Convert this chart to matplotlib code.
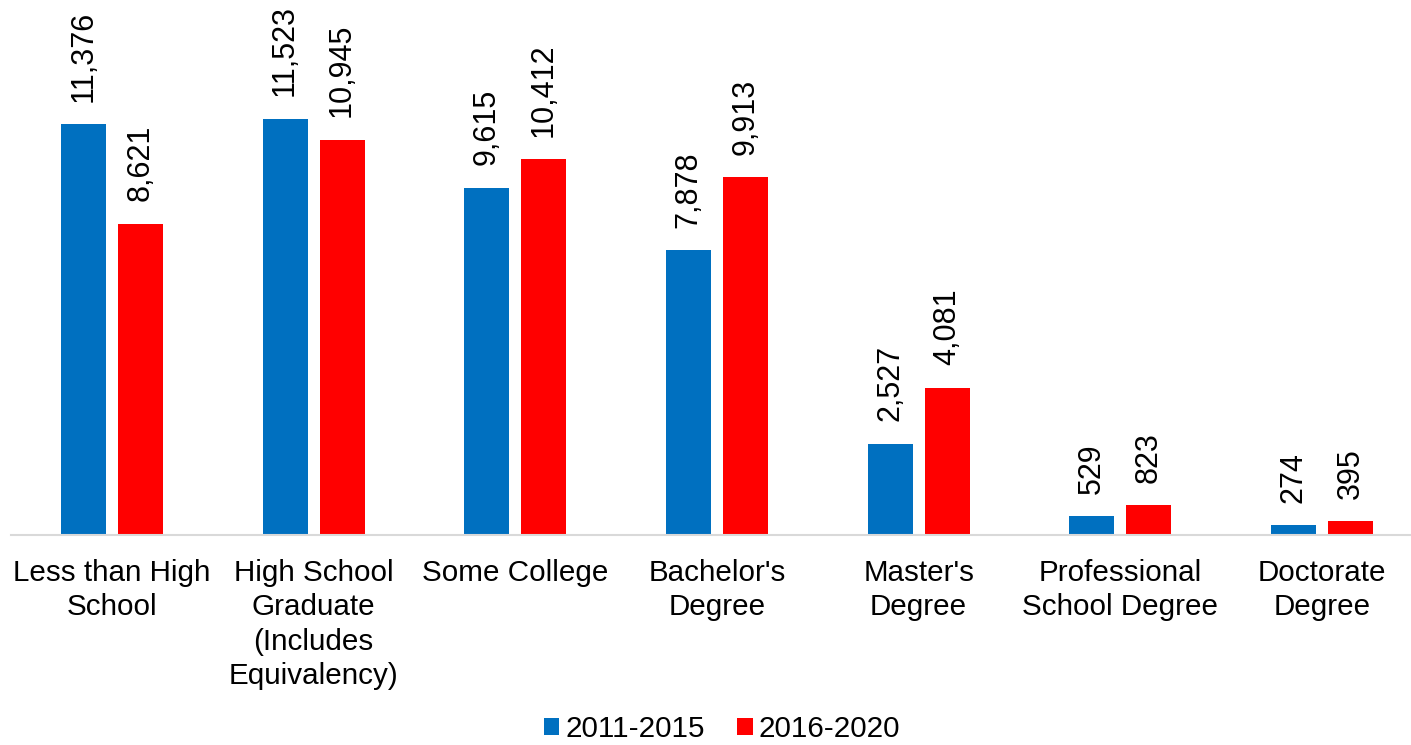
import numpy as np
import matplotlib.pyplot as plt

plt.rcParams['font.family'] = ['Liberation Sans', 'DejaVu Sans']

# data
categories = ["Less than High\nSchool", "High School\nGraduate\n(Includes\nEquivalency)",
              "Some College", "Bachelor's\nDegree", "Master's\nDegree",
              "Professional\nSchool Degree", "Doctorate\nDegree"]
series_names = ["2011-2015", "2016-2020"]
vals_2011_2015 = [11376, 11523, 9615, 7878, 2527, 529, 274]
vals_2016_2020 = [8621, 10945, 10412, 9913, 4081, 823, 395]
colors = ["#0070C0", "#FF0000"]

fig = plt.figure(figsize=(14.11, 7.45), dpi=100)
ax = fig.add_axes([11 / 1411, 210 / 745, 1400 / 1411, 535 / 745])

x = np.arange(len(categories))
w = 0.223
off = 0.1413
fs = 21.3

for vals, name, c, d in [(vals_2011_2015, series_names[0], colors[0], -off),
                         (vals_2016_2020, series_names[1], colors[1], off)]:
    bars = ax.bar(x + d, vals, width=w, color=c, label=name)
    for b, v in zip(bars, vals):
        ax.annotate(f"{v:,}", (b.get_x() + b.get_width() / 2, b.get_height()),
                    xytext=(0, 16), textcoords="offset points",
                    rotation=90, ha="center", va="bottom", fontsize=22)

ax.set_xlim(-0.5, -0.5 + 1400 / 201.7)
ax.set_ylim(0, 535 / 0.03613)
ax.set_xticks(x)
ax.set_xticklabels(categories, fontsize=fs, linespacing=1.3)
ax.tick_params(axis="x", length=0, pad=17)
ax.set_yticks([])
for s in ["top", "left", "right"]:
    ax.spines[s].set_visible(False)
ax.spines["bottom"].set_color("#d9d9d9")
ax.spines["bottom"].set_linewidth(1.5)

fig.legend(loc="center", bbox_to_anchor=(722 / 1411, 0.021), ncol=2, frameon=False,
           fontsize=fs, handlelength=0.52, handleheight=0.52, handletextpad=0.2,
           columnspacing=1.1, borderpad=0.2)

fig.savefig("out.png", dpi=100)
